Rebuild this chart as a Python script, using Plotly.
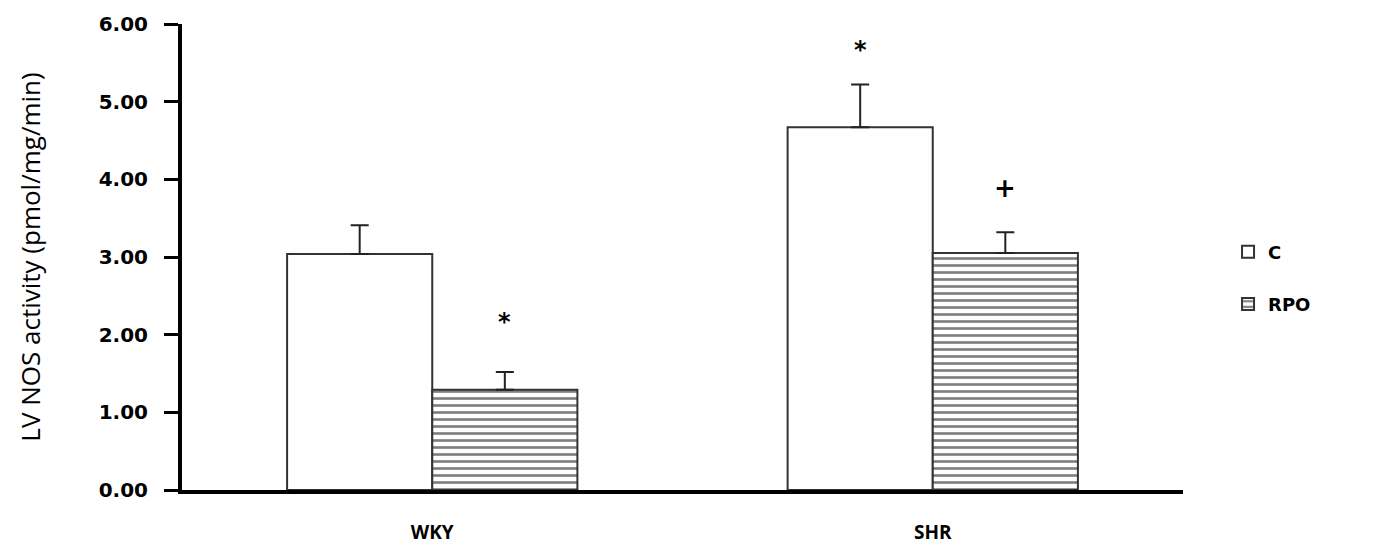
import plotly.graph_objects as go

# Group labels and treatment series
groups = ["WKY", "SHR"]
series_names = ["C", "RPO"]
c_values = [3.04, 4.67]
c_errors = [0.37, 0.55]
rpo_values = [1.29, 3.05]
rpo_errors = [0.23, 0.27]

# Significance markers: (group, series, marker text, y position)
marks = [("WKY", "RPO", "*", 2.16), ("SHR", "C", "*", 5.66), ("SHR", "RPO", "+", 3.89)]

y_ticks = [0, 1, 2, 3, 4, 5, 6]
y_ticktext = ["%.2f" % v for v in y_ticks]

fig = go.Figure()
fig.add_trace(go.Bar(
    name=series_names[0], x=groups, y=c_values, legendgroup="c",
    marker=dict(color="white", line=dict(color="#333333", width=2)),
    error_y=dict(type="data", array=c_errors, symmetric=False, arrayminus=[0, 0],
                 color="#222222", thickness=2, width=9),
))
fig.add_trace(go.Bar(
    name=series_names[1], x=groups, y=rpo_values, legendgroup="rpo",
    marker=dict(color="white", line=dict(color="#333333", width=2),
                pattern=dict(shape="-", size=7, solidity=0.38, fgcolor="black", bgcolor="white")),
    error_y=dict(type="data", array=rpo_errors, symmetric=False, arrayminus=[0, 0],
                 color="#222222", thickness=2, width=9),
))

offsets = {"C": -0.145, "RPO": 0.145}
for g, s, txt, yv in marks:
    fig.add_annotation(x=groups.index(g) + offsets[s], y=yv, text=txt, showarrow=False,
                       xref="x", yref="y",
                       font=dict(family="DejaVu Sans", size=24 if txt == "*" else 26,
                                 color="black", weight="bold"))

fig.update_layout(
    width=1378, height=547,
    margin=dict(l=182, r=195, t=24, b=57),
    paper_bgcolor="white", plot_bgcolor="white",
    barmode="group", bargap=0.42, bargroupgap=0,
    showlegend=True,
    legend=dict(x=1.045, y=0.455, xanchor="left", yanchor="middle",
                font=dict(family="DejaVu Sans", size=18, color="black", weight="bold"),
                itemwidth=30, tracegroupgap=26, traceorder="grouped"),
    xaxis=dict(range=[-0.5, 1.5], showline=True, linecolor="black", linewidth=4,
               ticks="", tickfont=dict(family="Open Sans", size=19, color="black", weight="bold"),
               ticklabelstandoff=22, automargin=False, showgrid=False, zeroline=False),
    yaxis=dict(range=[0, 6], tickvals=y_ticks, ticktext=y_ticktext,
               showline=True, linecolor="black", linewidth=4,
               ticks="outside", ticklen=14, tickwidth=3, tickcolor="black",
               tickfont=dict(family="DejaVu Sans", size=20, color="black", weight="bold"),
               ticklabelstandoff=12, automargin=False,
               showgrid=False, zeroline=False,
               title=dict(text="LV NOS activity (pmol/mg/min)", standoff=52,
                          font=dict(family="Open Sans", size=26, color="black"))),
)

fig.write_html("out.html")
